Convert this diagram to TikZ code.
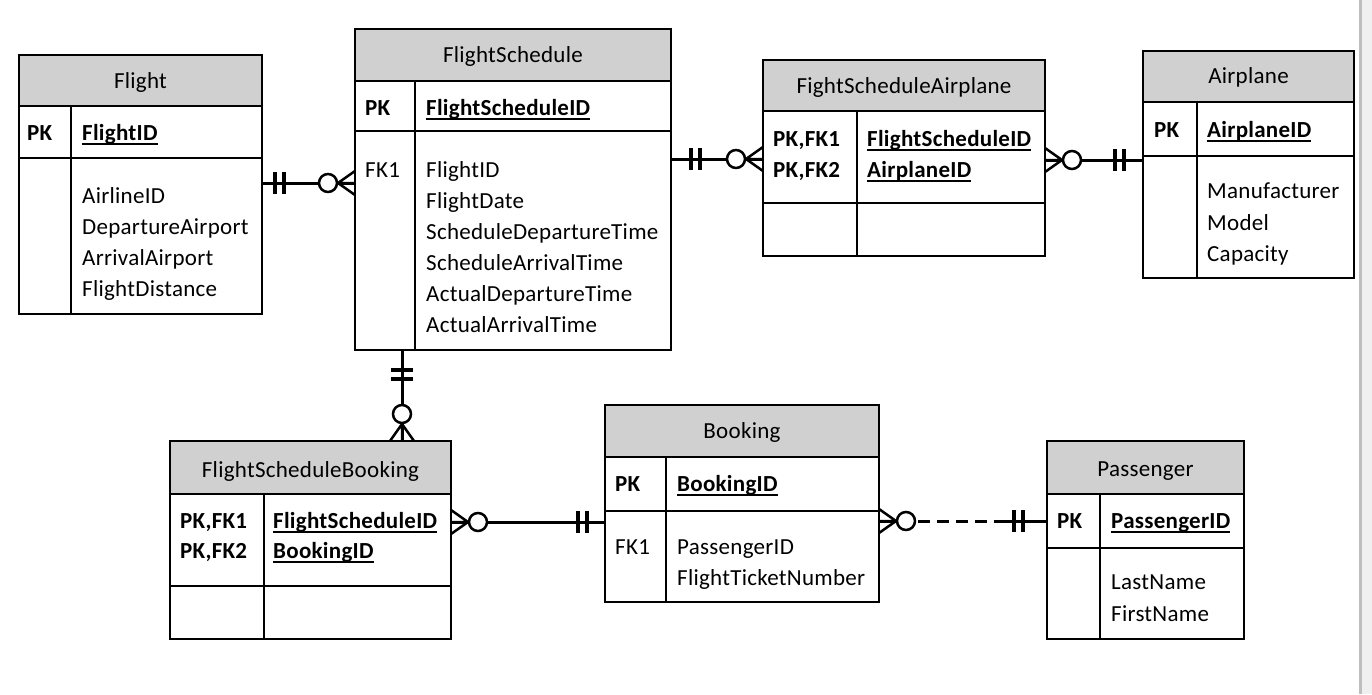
\documentclass[tikz,border=0pt]{standalone}
\usepackage{fontspec}
\setmainfont{Carlito}[LetterSpace=1.2]
\usetikzlibrary{calc}
\definecolor{hdr}{RGB}{208,208,208}
\definecolor{edgegray}{RGB}{190,190,190}
\definecolor{sidegray}{RGB}{240,240,240}
\newcommand\keyul[1]{\setbox0\hbox{\bfseries #1}\rlap{\vrule width\wd0 height -2.6pt depth 4.6pt}\box0}
\tikzset{
  tbl/.style={draw, line width=2pt, anchor=north west, inner sep=0pt, outer sep=0pt},
  hdrbox/.style={tbl, fill=hdr},
  rulel/.style={line width=2pt},
  ttl/.style={anchor=base, font=\fontsize{23}{28}\selectfont, inner sep=0pt},
  txt/.style={anchor=base west, font=\fontsize{23}{28}\selectfont, inner sep=0pt},
  keytxt/.style={anchor=base west, font=\fontsize{23}{28}\selectfont\bfseries, inner sep=0pt},
  rel/.style={line width=3pt},
  zm/.pic={\draw[line width=2.5pt] (0,-12) -- (17,0) -- (0,12) (0,0) -- (17,0);
           \draw[line width=2.5pt, fill=white] (27,0) circle (9);},
  bars/.pic={\draw[line width=3.5pt] (0,-11) -- (0,11) (9,-11) -- (9,11);},
}
\begin{document}
\begin{tikzpicture}[x=1pt, y=-1pt]
\useasboundingbox (0,0) rectangle (1372,694);
\fill[white] (0,0) rectangle (1372,694);
\fill[sidegray] (1361,0) rectangle (1372,694);
\draw[edgegray, line width=2.5pt] (1360.5,0) -- (1360.5,694);

% ---------- Flight ----------
\node[hdrbox, minimum width=243pt, minimum height=51pt] (flight-h) at (19,55) {};
\node[tbl, minimum width=243pt, minimum height=259pt] (flight) at (19,55) {};
\draw[rulel] (19,158) -- (262,158);
\draw[rulel] (71,106) -- (71,314);
\node[ttl] (flight-t) at (140.5,88) {Flight};
\node[keytxt] (flight-pk) at (27,140) {PK};
\node[txt] (flight-k) at (82,140) {\keyul{FlightID}};
\node[txt] (flight-a1) at (82,203) {AirlineID};
\node[txt] (flight-a2) at (82,234) {DepartureAirport};
\node[txt] (flight-a3) at (82,265) {ArrivalAirport};
\node[txt] (flight-a4) at (82,296) {FlightDistance};

% ---------- FlightSchedule ----------
\node[hdrbox, minimum width=316pt, minimum height=52pt] (fs-h) at (355,29) {};
\node[tbl, minimum width=316pt, minimum height=321pt] (fs) at (355,29) {};
\draw[rulel] (355,131) -- (671,131);
\draw[rulel] (415,81) -- (415,350);
\node[ttl] (fs-t) at (513,62) {FlightSchedule};
\node[keytxt] (fs-pk) at (365,115) {PK};
\node[txt] (fs-k) at (426,115) {\keyul{FlightScheduleID}};
\node[txt] (fs-fk) at (365,177) {FK1};
\node[txt] (fs-a1) at (426,177) {FlightID};
\node[txt] (fs-a2) at (426,208) {FlightDate};
\node[txt] (fs-a3) at (426,239) {ScheduleDepartureTime};
\node[txt] (fs-a4) at (426,270) {ScheduleArrivalTime};
\node[txt] (fs-a5) at (426,301) {ActualDepartureTime};
\node[txt] (fs-a6) at (426,332) {ActualArrivalTime};

% ---------- FightScheduleAirplane ----------
\node[hdrbox, minimum width=282pt, minimum height=51pt] (fsa-h) at (763,60) {};
\node[tbl, minimum width=282pt, minimum height=196pt] (fsa) at (763,60) {};
\draw[rulel] (763,203) -- (1045,203);
\draw[rulel] (857,111) -- (857,256);
\node[ttl] (fsa-t) at (904,93) {FightScheduleAirplane};
\node[keytxt] (fsa-pk1) at (773,146) {PK,FK1};
\node[keytxt] (fsa-pk2) at (773,177) {PK,FK2};
\node[txt] (fsa-k1) at (867,146) {\keyul{FlightScheduleID}};
\node[txt] (fsa-k2) at (867,177) {\keyul{AirplaneID}};

% ---------- Airplane ----------
\node[hdrbox, minimum width=211pt, minimum height=51pt] (ap-h) at (1143,51) {};
\node[tbl, minimum width=211pt, minimum height=227pt] (airplane) at (1143,51) {};
\draw[rulel] (1143,156) -- (1354,156);
\draw[rulel] (1197,102) -- (1197,278);
\node[ttl] (ap-t) at (1248.5,83) {Airplane};
\node[keytxt] (ap-pk) at (1154,137) {PK};
\node[txt] (ap-k) at (1207,137) {\keyul{AirplaneID}};
\node[txt] (ap-a1) at (1207,198) {Manufacturer};
\node[txt] (ap-a2) at (1207,230) {Model};
\node[txt] (ap-a3) at (1207,261) {Capacity};

% ---------- FlightScheduleBooking ----------
\node[hdrbox, minimum width=281pt, minimum height=53pt] (fsb-h) at (170,441) {};
\node[tbl, minimum width=281pt, minimum height=198pt] (fsb) at (170,441) {};
\draw[rulel] (170,586) -- (451,586);
\draw[rulel] (264,494) -- (264,639);
\node[ttl] (fsb-t) at (310.5,477) {FlightScheduleBooking};
\node[keytxt] (fsb-pk1) at (180,528) {PK,FK1};
\node[keytxt] (fsb-pk2) at (180,558) {PK,FK2};
\node[txt] (fsb-k1) at (273,528) {\keyul{FlightScheduleID}};
\node[txt] (fsb-k2) at (273,558) {\keyul{BookingID}};

% ---------- Booking ----------
\node[hdrbox, minimum width=274pt, minimum height=52pt] (bk-h) at (605,405) {};
\node[tbl, minimum width=274pt, minimum height=197pt] (booking) at (605,405) {};
\draw[rulel] (605,511) -- (879,511);
\draw[rulel] (666,457) -- (666,602);
\node[ttl] (bk-t) at (742,438) {Booking};
\node[keytxt] (bk-pk) at (615,491) {PK};
\node[txt] (bk-k) at (677,491) {\keyul{BookingID}};
\node[txt] (bk-fk) at (615,554) {FK1};
\node[txt] (bk-a1) at (677,554) {PassengerID};
\node[txt] (bk-a2) at (677,585) {FlightTicketNumber};

% ---------- Passenger ----------
\node[hdrbox, minimum width=197pt, minimum height=53pt] (ps-h) at (1047,441) {};
\node[tbl, minimum width=197pt, minimum height=198pt] (passenger) at (1047,441) {};
\draw[rulel] (1047,548) -- (1244,548);
\draw[rulel] (1100,494) -- (1100,639);
\node[ttl] (ps-t) at (1145.5,476) {Passenger};
\node[keytxt] (ps-pk) at (1057,528) {PK};
\node[txt] (ps-k) at (1111,528) {\keyul{PassengerID}};
\node[txt] (ps-a1) at (1111,589) {LastName};
\node[txt] (ps-a2) at (1111,621) {FirstName};

% ---------- connector levels ----------
\coordinate (y1) at (0,183);
\coordinate (y2) at (0,159);
\coordinate (y3) at (0,160);
\coordinate (y4) at (0,522);
\coordinate (y5) at (0,521);
\coordinate (x1) at (402,0);

% Flight -- FlightSchedule
\draw[rel] (flight.east |- y1) -- (fs.west |- y1);
\pic at ($(flight.east |- y1)+(13,0)$) {bars};
\pic[rotate=180] at (fs.west |- y1) {zm};

% FlightSchedule -- FightScheduleAirplane
\draw[rel] (fs.east |- y2) -- (fsa.west |- y2);
\pic at ($(fs.east |- y2)+(20,0)$) {bars};
\pic[rotate=180] at (fsa.west |- y2) {zm};

% FightScheduleAirplane -- Airplane
\draw[rel] (fsa.east |- y3) -- (airplane.west |- y3);
\pic at (fsa.east |- y3) {zm};
\pic[rotate=180] at ($(airplane.west |- y3)+(-19,0)$) {bars};

% FlightSchedule -- FlightScheduleBooking
\draw[rel] (fs.south -| x1) -- (fsb.north -| x1);
\pic[rotate=-90] at ($(fs.south -| x1)+(0,20)$) {bars};
\pic[rotate=90] at (fsb.north -| x1) {zm};

% FlightScheduleBooking -- Booking
\draw[rel] (fsb.east |- y4) -- (booking.west |- y4);
\pic at (fsb.east |- y4) {zm};
\pic[rotate=180] at ($(booking.west |- y4)+(-18,0)$) {bars};

% Booking -- Passenger (dashed)
\draw[rel] (booking.east |- y5) -- ($(booking.east |- y5)+(30,0)$);
\draw[rel, dash pattern=on 12pt off 7pt] ($(booking.east |- y5)+(39,0)$) -- ($(passenger.west |- y5)+(-44,0)$);
\draw[rel] ($(passenger.west |- y5)+(-44,0)$) -- (passenger.west |- y5);
\pic at (booking.east |- y5) {zm};
\pic[rotate=180] at ($(passenger.west |- y5)+(-24,0)$) {bars};
\end{tikzpicture}
\end{document}
